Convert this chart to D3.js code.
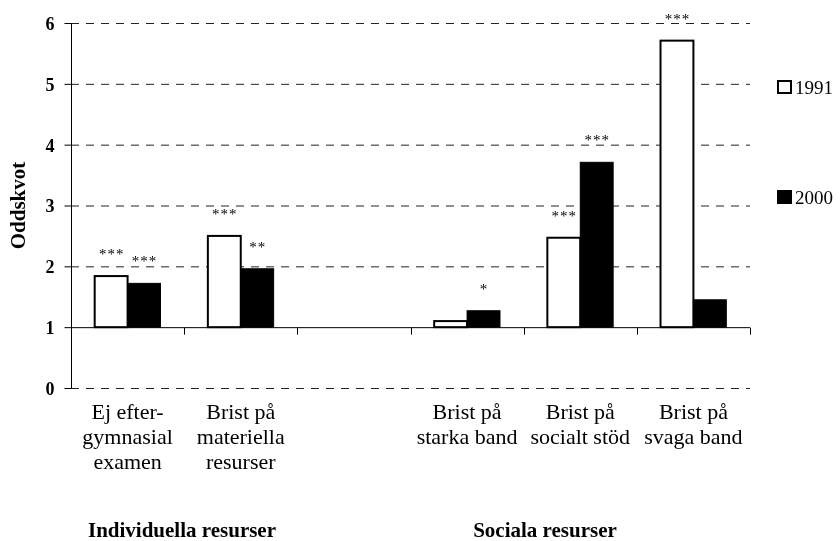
<!DOCTYPE html>
<meta charset="utf-8">
<style>
    body { margin: 0; background: #fff; }
    svg { will-change: transform; }
    svg text { font-family: 'Liberation Serif', 'DejaVu Serif', serif; fill: #000; }
    .tick-label { font-size: 18px; font-weight: bold; }
    .cat-label { font-size: 22px; }
    .group-label { font-size: 21px; font-weight: bold; }
    .sig { font-size: 15px; }
    .legend-label { font-size: 19px; }
    .grid { stroke: #222; stroke-width: 1; stroke-dasharray: 8,7; }
</style>
<script src="https://d3js.org/d3.v7.min.js"></script>
<body>
<div id="chart"></div>
<script>
// categories (third slot is an empty spacer between the two groups)
var categories = [
    ["Ej efter-", "gymnasial", "examen"],
    ["Brist på", "materiella", "resurser"],
    [],
    ["Brist på", "starka band"],
    ["Brist på", "socialt stöd"],
    ["Brist på", "svaga band"]
];
var series = ["1991", "2000"];
var values1991 = [1.84, 2.50, null, 1.10, 2.47, 5.71];
var values2000 = [1.72, 1.96, null, 1.27, 3.71, 1.45];
var sig1991 = ["***", "***", "", "", "***", "***"];
var sig2000 = ["***", "**", "", "*", "***", ""];
var yTicks = [0, 1, 2, 3, 4, 5, 6];
var groups = [
    { name: "Individuella resurser", x: 182 },
    { name: "Sociala resurser", x: 545 }
];

var width = 840,
    height = 541,
    plotLeft = 71, plotRight = 750, plotTop = 23, plotBottom = 388,
    baseValue = 1;

var svg = d3.select("#chart").append("svg")
    .attr("width", width)
    .attr("height", height)
    .attr("font-family", "'Liberation Serif', 'DejaVu Serif', serif");

var idx = d3.range(categories.length);

var x0 = d3.scaleBand()
    .domain(idx)
    .range([plotLeft, plotRight])
    .padding(0);

var x1 = d3.scaleBand()
    .domain(series)
    .range([0, x0.bandwidth()])
    .paddingInner(0)
    .paddingOuter(0.72);

var y = d3.scaleLinear()
    .domain([0, 6])
    .range([plotBottom, plotTop]);

// dashed gridlines (not at the base line 1)
svg.append("g").selectAll("line")
    .data(yTicks.filter(function (d) { return d !== baseValue; }))
    .enter().append("line")
    .attr("class", "grid")
    .attr("x1", plotLeft).attr("x2", plotRight)
    .attr("y1", function (d) { return y(d) + 0.5; })
    .attr("y2", function (d) { return y(d) + 0.5; });

// y axis
var yAxis = d3.axisLeft(y)
    .tickValues(yTicks)
    .tickSize(7)
    .tickPadding(10)
    .tickFormat(d3.format("d"));

var yg = svg.append("g")
    .attr("transform", "translate(" + (plotLeft + 0.5) + ",0)")
    .call(yAxis);
yg.attr("font-family", null).attr("font-size", null);
yg.select(".domain").attr("stroke", "#000").attr("d", "M0," + plotTop + "V" + plotBottom);
yg.selectAll(".tick line").attr("stroke", "#000");
yg.selectAll(".tick text")
    .attr("class", "tick-label")
    .attr("fill", "#000")
    .attr("dy", "0.36em");

// data rows
var rows = idx.map(function (i) {
    return [
        { key: "1991", i: i, v: values1991[i], sig: sig1991[i] },
        { key: "2000", i: i, v: values2000[i], sig: sig2000[i] }
    ];
});

var g = svg.append("g").selectAll("g")
    .data(rows)
    .enter().append("g")
    .attr("transform", function (d, i) { return "translate(" + x0(i) + ",0)"; });

g.selectAll("rect")
    .data(function (d) { return d.filter(function (b) { return b.v != null; }); })
    .enter().append("rect")
    .attr("x", function (d) { return x1(d.key); })
    .attr("y", function (d) { return y(d.v); })
    .attr("width", x1.bandwidth())
    .attr("height", function (d) { return y(baseValue) - y(d.v); })
    .attr("fill", function (d) { return d.key === "1991" ? "#fff" : "#000"; })
    .attr("stroke", "#000")
    .attr("stroke-width", function (d) { return d.key === "1991" ? 2 : 1; });

g.selectAll("text.sig")
    .data(function (d) { return d.filter(function (b) { return b.sig; }); })
    .enter().append("text")
    .attr("class", "sig")
    .attr("text-anchor", "middle")
    .attr("letter-spacing", "1px")
    .attr("x", function (d) { return x1(d.key) + x1.bandwidth() / 2 + 0.5; })
    .attr("y", function (d) { return y(d.v) - 17; })
    .text(function (d) { return d.sig; });

// category axis along the base value 1
var xAxis = d3.axisBottom(x0)
    .tickSize(0)
    .tickFormat("");
var xg = svg.append("g")
    .attr("transform", "translate(0," + (y(baseValue) + 0.5) + ")")
    .call(xAxis);
xg.select(".domain").attr("stroke", "#000").attr("d", "M" + plotLeft + ",0H" + plotRight);

xg.selectAll("line.sep")
    .data(idx.map(function (i) { return x0(i) + x0.bandwidth(); }))
    .enter().append("line")
    .attr("class", "sep")
    .attr("stroke", "#000")
    .attr("x1", function (d) { return Math.round(d) + 0.5; })
    .attr("x2", function (d) { return Math.round(d) + 0.5; })
    .attr("y1", 0).attr("y2", 7);

// category labels
var labels = svg.append("g").selectAll("text")
    .data(categories)
    .enter().append("text")
    .attr("class", "cat-label")
    .attr("text-anchor", "middle")
    .attr("x", function (d, i) { return x0(i) + x0.bandwidth() / 2; })
    .attr("y", 419);
labels.selectAll("tspan")
    .data(function (d) { return d; })
    .enter().append("tspan")
    .attr("x", function () { return d3.select(this.parentNode).attr("x"); })
    .attr("dy", function (d, i) { return i ? 25 : 0; })
    .text(function (d) { return d; });

// group labels
svg.append("g").selectAll("text")
    .data(groups)
    .enter().append("text")
    .attr("class", "group-label")
    .attr("text-anchor", "middle")
    .attr("x", function (d) { return d.x; })
    .attr("y", 537)
    .text(function (d) { return d.name; });

// y axis title
svg.append("text")
    .attr("class", "group-label")
    .attr("text-anchor", "middle")
    .attr("transform", "translate(25," + (plotTop + plotBottom) / 2 + ") rotate(-90)")
    .text("Oddskvot");

// legend
var legend = svg.append("g").selectAll("g")
    .data(series)
    .enter().append("g")
    .attr("transform", function (d, i) { return "translate(777," + (80 + i * 110) + ")"; });
legend.append("rect")
    .attr("x", 1).attr("y", 1)
    .attr("width", 13).attr("height", 12)
    .attr("fill", function (d) { return d === "1991" ? "#fff" : "#000"; })
    .attr("stroke", "#000")
    .attr("stroke-width", 2);
legend.append("text")
    .attr("class", "legend-label")
    .attr("x", 18)
    .attr("y", 14)
    .text(function (d) { return d; });
</script>
</body>
